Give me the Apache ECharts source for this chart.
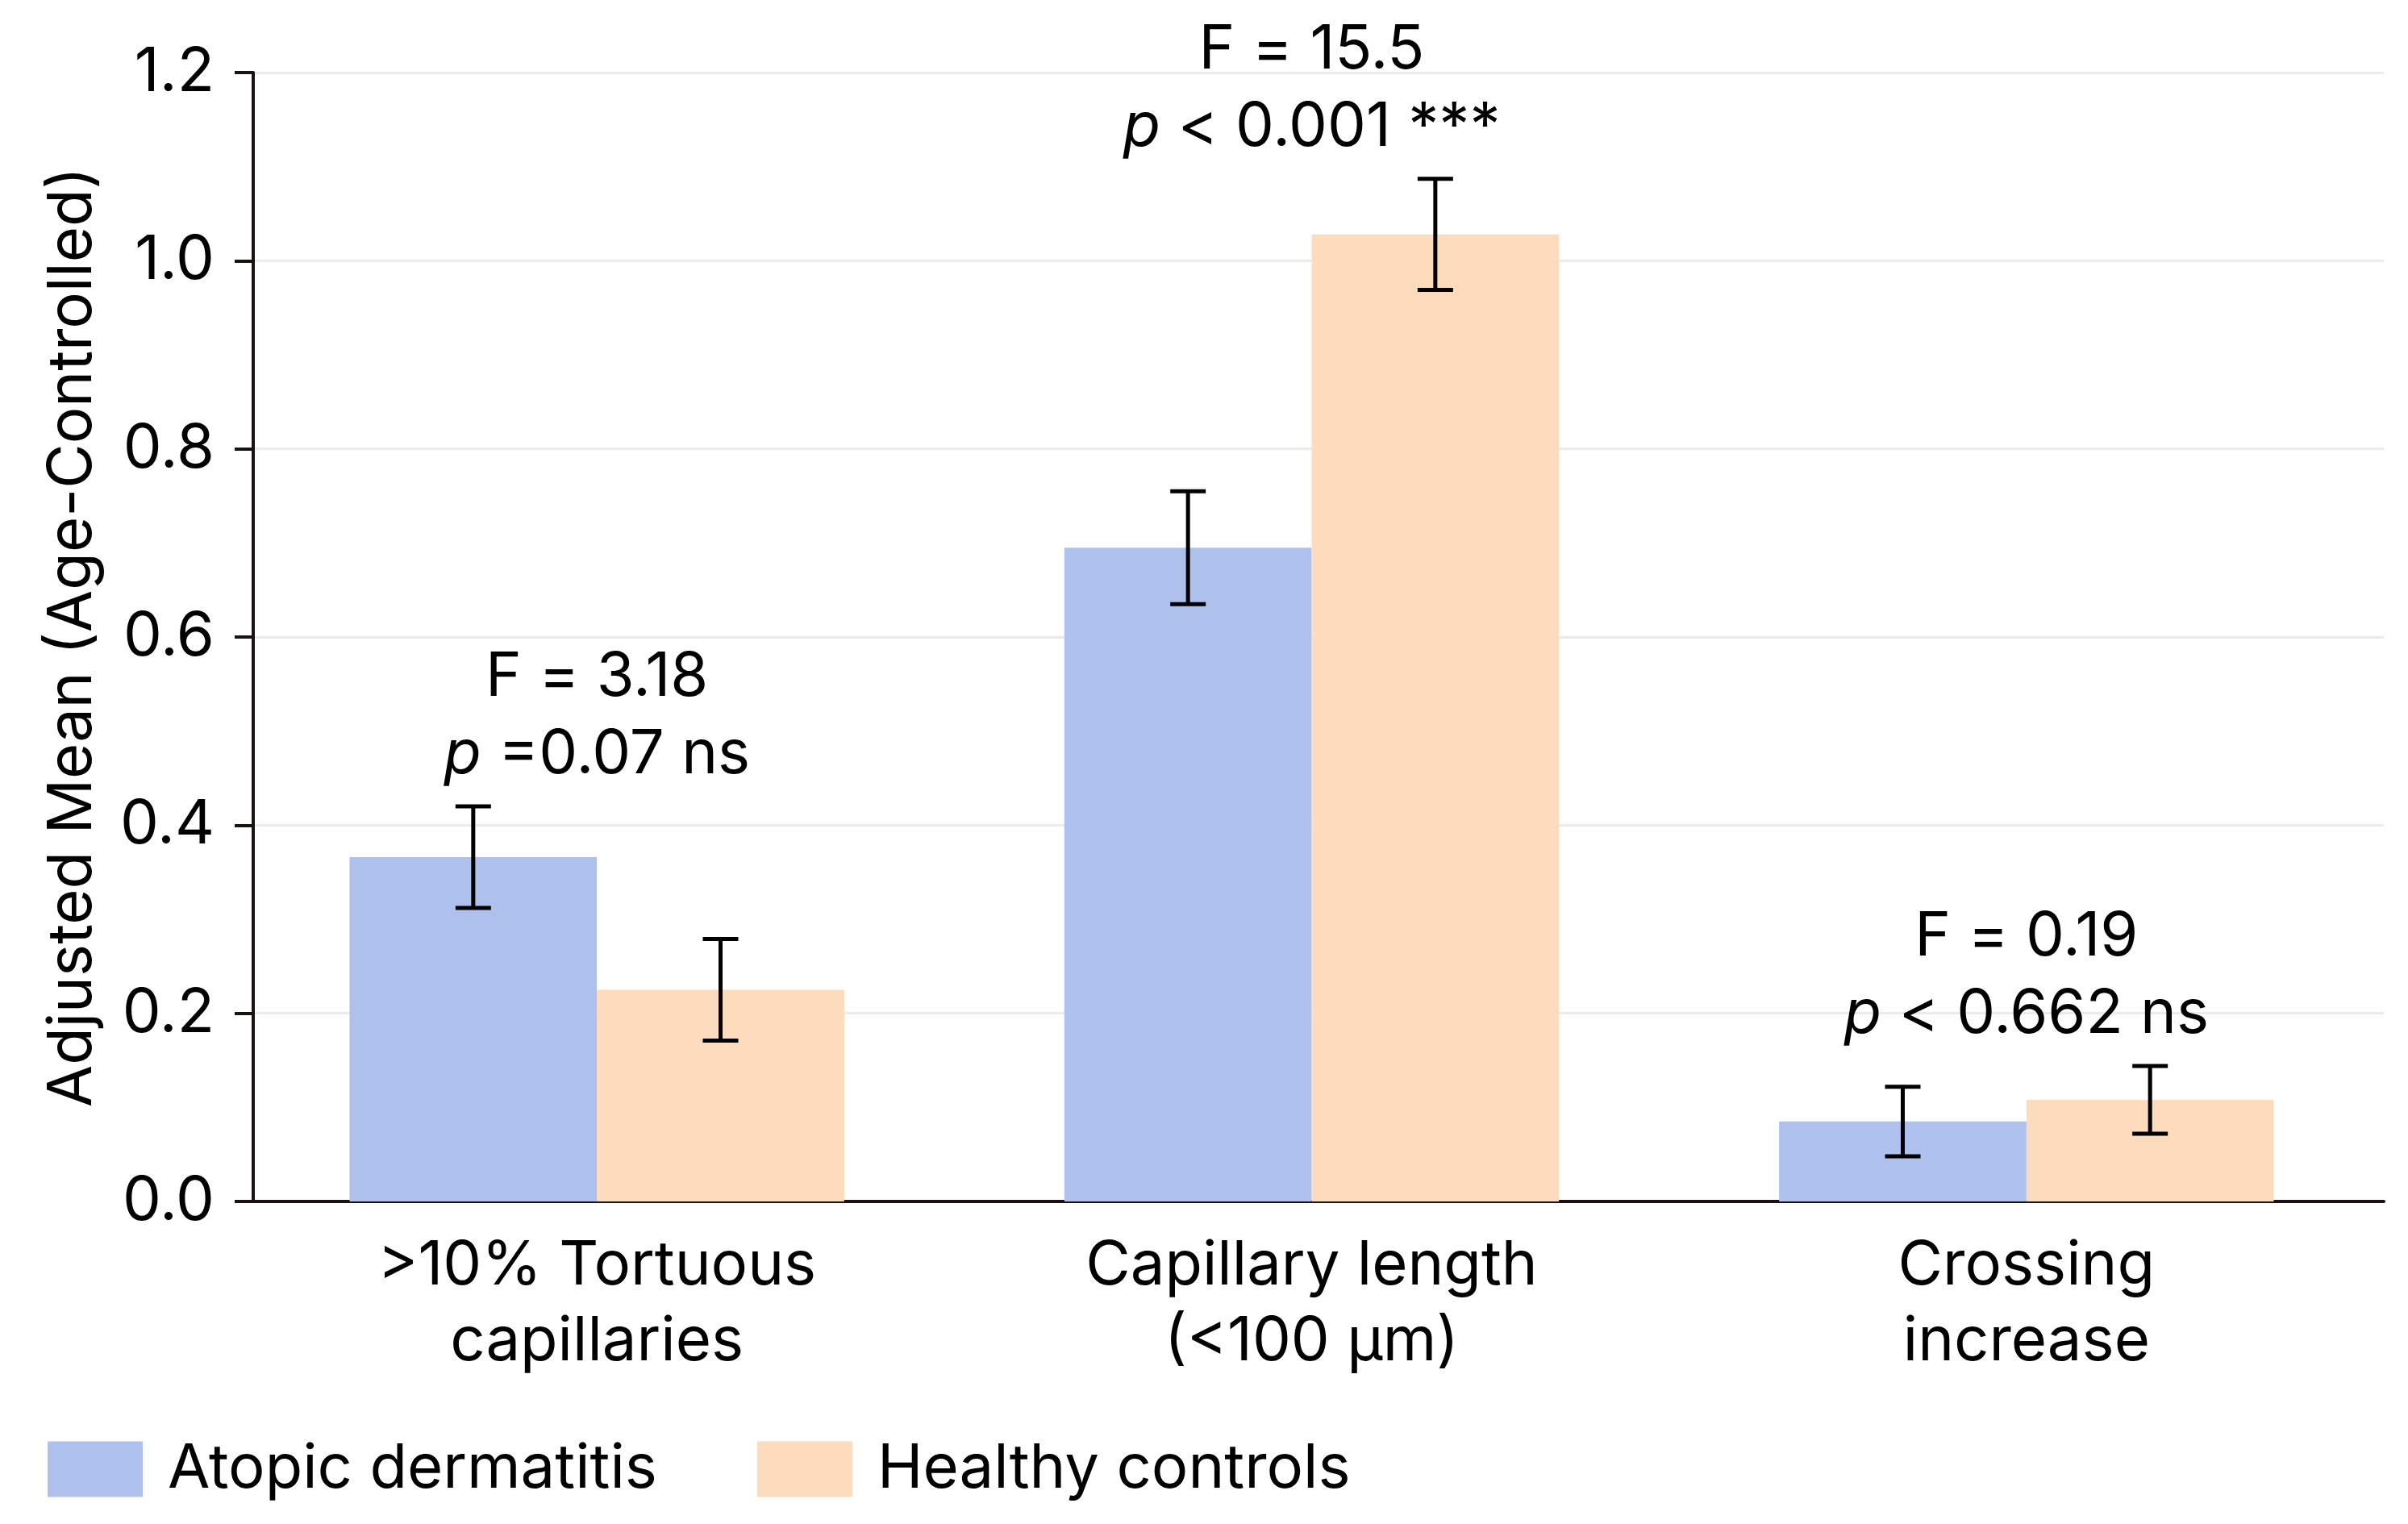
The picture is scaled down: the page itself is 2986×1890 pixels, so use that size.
<!DOCTYPE html>
<html>
<head>
<meta charset="utf-8">
<script src="https://cdn.jsdelivr.net/npm/echarts@6/dist/echarts.min.js"></script>
<style>html,body{margin:0;padding:0;background:#fff;}</style>
</head>
<body>
<div id="main" style="width:2986px;height:1890px;"></div>
<script type="text/javascript">
// data
var categories = ['>10% Tortuous\ncapillaries', 'Capillary length\n(<100 μm)', 'Crossing\nincrease'];
var seriesNames = ['Atopic dermatitis', 'Healthy controls'];
var atopicMean = [0.366, 0.695, 0.085];
var atopicErr = [0.054, 0.060, 0.037];
var healthyMean = [0.225, 1.028, 0.108];
var healthyErr = [0.054, 0.059, 0.036];
var statF = ['3.18', '15.5', '0.19'];
var statP = [' =0.07 ns', ' < 0.001 ***', ' < 0.662 ns'];
var yMin = 0, yMax = 1.2, yStep = 0.2;

var FONT = 'Inter';
var FS = 76;
var BAR_W = 0.346;

var myChart = echarts.init(document.getElementById('main'));

function errorSeries(name, means, errs, side) {
    return {
        type: 'custom',
        name: name,
        z: 5,
        silent: true,
        data: means.map(function (m, i) { return [i, m - errs[i], m + errs[i]]; }),
        encode: { x: 0, y: [1, 2] },
        renderItem: function (params, api) {
            var band = api.size([1, 0])[0];
            var lo = api.coord([api.value(0), api.value(1)]);
            var hi = api.coord([api.value(0), api.value(2)]);
            var x = lo[0] + side * band * BAR_W / 2;
            var cap = 22;
            var st = { stroke: '#000', lineWidth: 5 };
            return {
                type: 'group',
                children: [
                    { type: 'line', shape: { x1: x, y1: hi[1], x2: x, y2: lo[1] }, style: st },
                    { type: 'line', shape: { x1: x - cap, y1: hi[1], x2: x + cap, y2: hi[1] }, style: st },
                    { type: 'line', shape: { x1: x - cap, y1: lo[1], x2: x + cap, y2: lo[1] }, style: st }
                ]
            };
        }
    };
}

var annotTops = categories.map(function (c, i) {
    return [i, Math.max(atopicMean[i] + atopicErr[i], healthyMean[i] + healthyErr[i])];
});

var txt = { fontFamily: FONT, fontSize: FS, color: '#000' };

myChart.setOption({
    backgroundColor: '#fff',
    animation: false,
    textStyle: { fontFamily: FONT },
    grid: { left: 297, right: 30, top: 90, bottom: 400, containLabel: false },
    legend: {
        data: seriesNames,
        left: 54,
        top: 1779,
        icon: 'rect',
        itemWidth: 118,
        itemHeight: 69,
        itemGap: 124,
        textStyle: { fontFamily: FONT, fontSize: FS, color: '#000', padding: [0, 0, 0, 26] }
    },
    xAxis: {
        type: 'category',
        data: categories,
        axisTick: { show: false },
        axisLine: { lineStyle: { color: '#1a1212', width: 4 } },
        axisLabel: { fontFamily: FONT, fontSize: FS, lineHeight: 94, color: '#000', margin: 33, interval: 0 }
    },
    yAxis: {
        type: 'value',
        min: yMin,
        max: yMax,
        interval: yStep,
        offset: -17,
        name: 'Adjusted Mean (Age-Controlled)',
        nameLocation: 'middle',
        nameGap: 186,
        nameTextStyle: txt,
        axisLine: { show: true, lineStyle: { color: '#1a1212', width: 4 } },
        axisTick: { show: true, length: 23, lineStyle: { color: '#1a1212', width: 4 } },
        splitLine: { lineStyle: { color: '#ebebeb', width: 3 } },
        axisLabel: {
            fontFamily: FONT, fontSize: FS, color: '#000', margin: 48,
            formatter: function (v) { return v.toFixed(1); }
        }
    },
    series: [
        {
            name: seriesNames[0],
            type: 'bar',
            data: atopicMean,
            barWidth: (BAR_W * 100) + '%',
            barGap: '0%',
            itemStyle: { color: '#aec0ec' }
        },
        {
            name: seriesNames[1],
            type: 'bar',
            data: healthyMean,
            barWidth: (BAR_W * 100) + '%',
            barGap: '0%',
            itemStyle: { color: '#fddcbd' }
        },
        errorSeries('err-ad', atopicMean, atopicErr, -1),
        errorSeries('err-hc', healthyMean, healthyErr, 1),
        {
            name: 'stats',
            type: 'scatter',
            symbolSize: 0,
            silent: true,
            z: 6,
            itemStyle: { opacity: 1 },
            data: annotTops,
            label: {
                show: true,
                position: 'top',
                distance: 16,
                opacity: 1,
                fontFamily: FONT,
                fontSize: FS,
                color: '#000',
                formatter: function (p) {
                    var i = p.dataIndex;
                    return '{n|F = ' + statF[i] + '}\n{i|p}{n|' + statP[i] + '}';
                },
                rich: {
                    n: { fontFamily: FONT, fontSize: FS, color: '#000', lineHeight: 96 },
                    i: { fontFamily: FONT, fontSize: FS, color: '#000', fontStyle: 'italic', lineHeight: 96 }
                }
            }
        }
    ]
});
</script>
</body>
</html>
